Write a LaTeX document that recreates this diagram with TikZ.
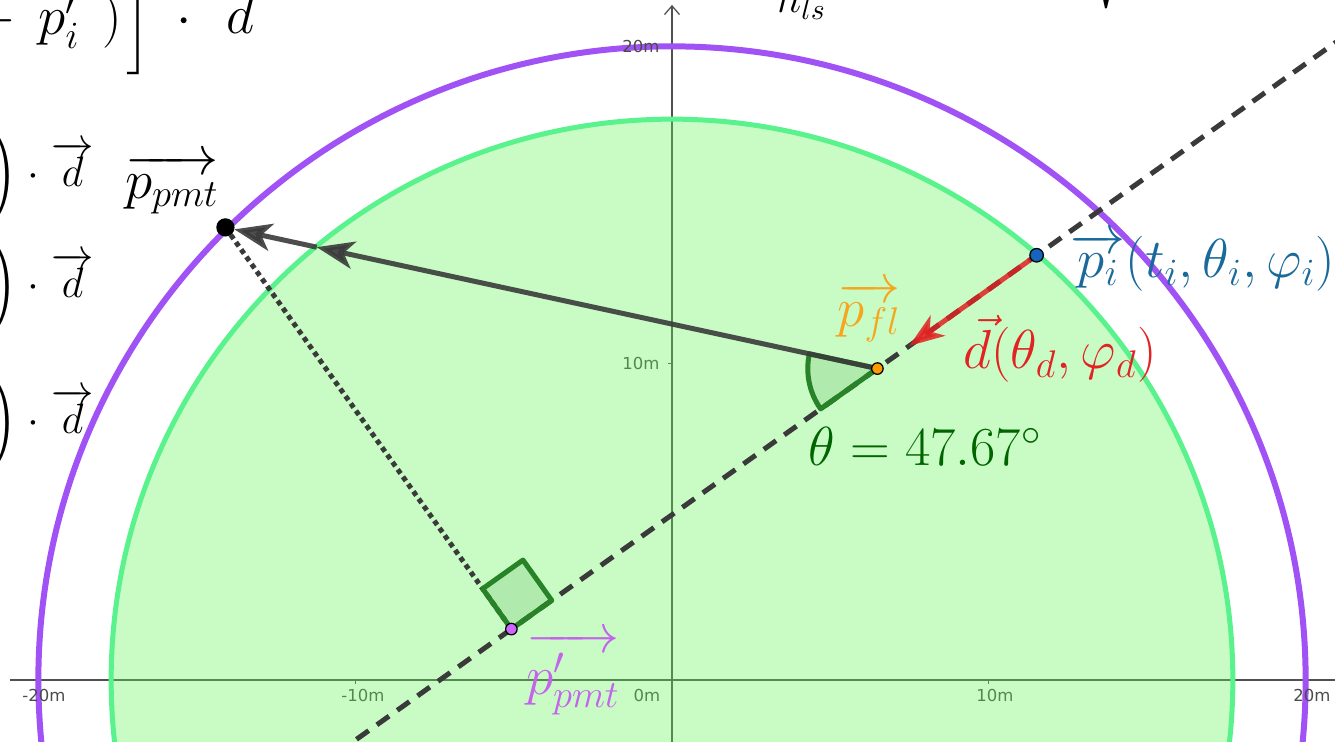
\RequirePackage{fix-cm}
\documentclass[tikz,border=0pt]{standalone}
\usepackage{amsmath}
\usepackage{fontspec}
\newfontfamily\tickfont{DejaVu Sans}
\usetikzlibrary{calc,arrows.meta}
\pgfdeclarelayer{back}
\pgfsetlayers{back,main}
\definecolor{circpurple}{RGB}{160,82,245}
\definecolor{circgreen}{RGB}{90,242,140}
\definecolor{fillgreen}{RGB}{98,246,86}
\definecolor{linegray}{RGB}{58,58,58}
\definecolor{anglegreen}{RGB}{40,130,40}
\definecolor{thetagreen}{RGB}{0,100,0}
\definecolor{piblue}{RGB}{25,105,155}
\definecolor{dotblue}{RGB}{21,101,192}
\definecolor{pflorange}{RGB}{245,165,30}
\definecolor{dotorange}{RGB}{255,153,0}
\definecolor{dred}{RGB}{225,35,35}
\definecolor{pviolet}{RGB}{195,100,235}
\definecolor{dotviolet}{RGB}{204,102,255}
\definecolor{axisgray}{RGB}{80,80,80}
\definecolor{ticklabel}{RGB}{75,75,75}
\tikzset{
  axisline/.style={draw=axisgray, line width=0.5pt},
  ticklab/.style={font=\tickfont\fontsize{6.6}{8}\selectfont, text=ticklabel, inner sep=0},
  mathlab/.style={font=\fontsize{22}{26}\selectfont, inner sep=0},
  bigmath/.style={font=\fontsize{22}{26}\selectfont, inner sep=0},
  rowmath/.style={font=\fontsize{17}{20}\selectfont, inner sep=0},
  dotnode/.style={circle, draw=black, line width=0.5pt, inner sep=0},
  vecline/.style={draw=linegray, opacity=0.9, line width=2pt, -{Stealth[length=15pt,width=11pt,inset=4pt]}},
  redvec/.style={draw=dred, opacity=0.85, line width=2pt, -{Stealth[length=14pt,width=10pt,inset=4pt]}},
  dashline/.style={draw=linegray, line width=2pt, dash pattern=on 6pt off 4pt},
  dotline/.style={draw=linegray, line width=2pt, dash pattern=on 2pt off 1.6pt},
  anglemark/.style={draw=anglegreen, line width=2pt, fill=anglegreen, fill opacity=0.15, line join=round},
}
\begin{document}
\begin{tikzpicture}[x=12.66pt,y=12.66pt]
\useasboundingbox (-268.8pt,-24.4pt) rectangle (265.2pt,272pt);

% points
\node[dotnode, fill=dotblue, minimum size=5.4pt] (pi) at (11.52,13.42) {};
\node[dotnode, fill=dotorange, minimum size=4.6pt] (pfl) at (6.49,9.84) {};
\node[dotnode, fill=black, minimum size=6.8pt] (ppmt) at (-14.11,14.30) {};
\node[dotnode, fill=dotviolet, minimum size=4.6pt] (pp) at ($(pfl)!(ppmt)!(pi)$) {};

% labels in pixel coordinates
\begin{scope}[shift={(-268.8pt,272pt)},x=0.4pt,y=-0.4pt]
  \node[mathlab] (lppmt) at (172,184) {$\overrightarrow{p_{pmt}}$};
  \node[mathlab, text=piblue] (lpi) at (1203,262) {$\overrightarrow{p_i}(t_i,\theta_i,\varphi_i)$};
  \node[mathlab, text=pflorange] (lpfl) at (869,312) {$\overrightarrow{p_{fl}}$};
  \node[mathlab, text=dred] (ld) at (1060,349) {$\vec{d}(\theta_d,\varphi_d)$};
  \node[mathlab, text=thetagreen] (ltheta) at (925,446) {$\theta = 47.67^\circ$};
  \node[mathlab, text=pviolet] (lpp) at (573,674) {$\overrightarrow{p'_{pmt}}$};
  % cut formula fragments (top left)
  \node[bigmath, anchor=base east] (fminus) at (17,35) {$-$};
  \node[bigmath, anchor=base west] (fp) at (38,35) {$p'_i$};
  \node[bigmath, anchor=base west] (fparen) at (102,35) {$)$};
  \node[bigmath, anchor=base west] (fbrack) at (126,42) {$\Big]$};
  \node[bigmath, anchor=base] (fdot) at (184,35) {$\cdot$};
  \node[bigmath, anchor=base west] (fd) at (226,34) {$d$};
  \node[inner sep=0, anchor=base west, font=\fontsize{17}{20}\selectfont] (fnls) at (776,13) {$n_{ls}$};
  \node[inner sep=0, anchor=south west, font=\fontsize{22}{26}\selectfont] (fsqrt) at (1083,9) {$\sqrt{\vphantom{\Big(}\hphantom{x}}$};
  % cut formula fragments (left rows)
  \foreach \r/\b in {1/187, 2/298, 3/434} {
    \node[rowmath, font=\fontsize{16}{19}\selectfont, anchor=base east] (rparen\r) at (19,\b) {$\bigg)$};
    \node[rowmath, anchor=base] (rdot\r) at (33,\b) {$\cdot$};
    \node[rowmath, anchor=base west] (rd\r) at (51,\b) {$\overrightarrow{d}$};
  }
\end{scope}

\begin{pgfonlayer}{back}
  % axes
  \coordinate (xa) at (-20.92,0);
  \coordinate (xb) at (21.3,0);
  \coordinate (ya) at (0,-2.2);
  \coordinate (yb) at (0,21.33);
  \draw[axisline] (xa) -- (xb);
  \draw[axisline, -{Straight Barb[length=3.5pt,width=6pt]}] (ya) -- (yb);
  \foreach \t in {-20,-10,10,20} { \draw[axisline] (\t,0) -- (\t,-0.13); }
  \foreach \t in {10,20} { \draw[axisline] (0,\t) -- (-0.13,\t); }
  \begin{scope}[shift={(-268.8pt,272pt)},x=0.4pt,y=-0.4pt]
    \node[ticklab] (tm10) at (363,696) {-10m};
    \node[ticklab] (t0) at (647,696) {0m};
    \node[ticklab] (t10) at (995,696) {10m};
    \node[ticklab, anchor=east] (ty10) at (660,364) {10m};
  \end{scope}
  % detector regions
  \fill[fillgreen, fill opacity=0.35] (0,0) circle (17.72);
  \draw[circgreen, line width=2pt] (0,0) circle (17.72);
  \draw[circpurple, line width=2.4pt] (0,0) circle (20.02);
  \begin{scope}[shift={(-268.8pt,272pt)},x=0.4pt,y=-0.4pt]
    \node[ticklab] (tm20) at (44,696) {-20m};
    \node[ticklab] (t20) at (1312,696) {20m};
    \node[ticklab, anchor=east] (ty20) at (660,47) {20m};
  \end{scope}
  % direction line
  \draw[dashline] ($(pfl)!-3.4!(pi)$) -- ($(pfl)!3.0!(pi)$);
  % perpendicular
  \draw[dotline] (ppmt) -- (pp);
  % right angle mark
  \coordinate (ra1) at ($(pp)!19.8pt!(pfl)$);
  \coordinate (ra3) at ($(pp)!19.8pt!(ppmt)$);
  \coordinate (ra2) at ($(ra1)+(ra3)-(pp)$);
  \filldraw[anglemark] (pp.center) -- (ra1) -- (ra2) -- (ra3) -- cycle;
  % angle sector
  \filldraw[anglemark] (pfl.center) -- ++(167.8:2.2) arc[start angle=167.8, end angle=215.4, radius=2.2] -- cycle;
  % vector to pmt
  \coordinate (cross) at ($(pfl)!0.86!(ppmt)$);
  \draw[vecline] (pfl) -- (cross);
  \draw[vecline] (cross) -- (ppmt);
  % direction vector
  \coordinate (dend) at ($(pi)!0.8!(pfl)$);
  \draw[redvec] (pi) -- (dend);
\end{pgfonlayer}
\end{tikzpicture}
\end{document}
